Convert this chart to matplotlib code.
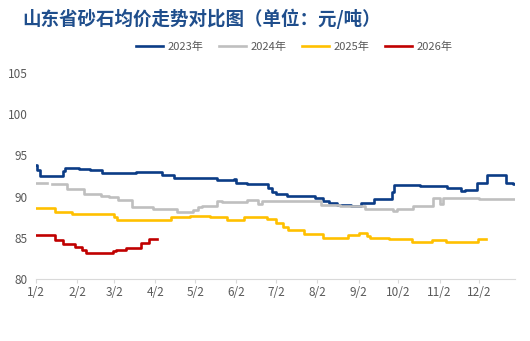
import matplotlib.pyplot as plt
import numpy as np
import pandas as pd

plt.rcParams['font.family'] = ['Noto Sans CJK SC', 'DejaVu Sans']

# 阶梯数据: (日期, 均价)，每个值保持到下一个日期
dates_2023 = ["01-02", "01-03", "01-05", "01-22", "01-24", "02-03", "02-12", "02-21", "03-18", "04-07",
              "04-16", "05-05", "05-18", "05-31", "06-02", "06-10", "06-26", "06-29", "07-02", "07-10",
              "07-31", "08-06", "08-11", "08-17", "08-27", "09-04", "09-14", "09-27", "09-29", "10-18",
              "11-08", "11-18", "11-21", "11-30", "12-08", "12-22", "12-27", "12-29"]
vals_2023 = [93.8, 93.2, 92.5, 93.1, 93.5, 93.3, 93.2, 92.8, 93.0, 92.6,
             92.3, 92.2, 92.0, 92.1, 91.7, 91.5, 91.0, 90.6, 90.3, 90.1,
             89.8, 89.5, 89.2, 89.0, 88.8, 89.2, 89.7, 90.5, 91.4, 91.3,
             91.0, 90.7, 90.8, 91.7, 92.6, 91.7, 91.5, 91.5]

dates_2024 = ["01-02", "01-10", "01-14", "01-25", "02-07", "02-20", "02-26", "03-05", "03-15", "03-31",
              "04-18", "04-30", "05-04", "05-07", "05-18", "05-22", "06-10", "06-18", "06-21", "07-07",
              "07-19", "08-05", "08-19", "09-07", "09-28", "10-01", "10-13", "10-28", "11-02", "11-05",
              "12-02", "12-29"]
vals_2024 = [91.7, np.nan, 91.5, 90.9, 90.3, 90.1, 89.9, 89.6, 88.7, 88.5,
             88.1, 88.4, 88.7, 88.9, 89.5, 89.3, 89.6, 89.1, 89.5, 89.4,
             89.5, 89.0, 88.8, 88.5, 88.2, 88.5, 88.8, 89.8, 89.1, 89.8,
             89.7, 89.7]

dates_2025 = ["01-02", "01-16", "01-29", "03-02", "03-04", "03-23", "04-14", "04-28", "05-13", "05-26",
              "06-08", "06-25", "07-02", "07-07", "07-11", "07-23", "08-06", "08-25", "09-02", "09-08",
              "09-11", "09-25", "10-12", "10-27", "11-07", "12-01", "12-07"]
vals_2025 = [88.6, 88.1, 87.9, 87.5, 87.1, 87.2, 87.5, 87.6, 87.5, 87.2,
             87.5, 87.3, 86.8, 86.3, 85.9, 85.5, 85.0, 85.3, 85.6, 85.2,
             85.0, 84.8, 84.5, 84.7, 84.5, 84.9, 84.9]

dates_2026 = ["01-02", "01-16", "01-22", "01-31", "02-06", "02-09", "03-01", "03-03", "03-11", "03-22",
              "03-28", "04-03"]
vals_2026 = [85.3, 84.7, 84.2, 83.9, 83.5, 83.2, 83.4, 83.5, 83.8, 84.4,
             84.8, 84.8]

tick_dates = ["01-02", "02-02", "03-02", "04-02", "05-02", "06-02", "07-02", "08-02", "09-02",
              "10-02", "11-02", "12-02"]
tick_labels = ["1/2", "2/2", "3/2", "4/2", "5/2", "6/2", "7/2", "8/2", "9/2", "10/2", "11/2", "12/2"]


def to_doy(md_list):
    # 用非闰年把月-日换成年内第几天
    return pd.to_datetime(["2023-" + s for s in md_list]).dayofyear.values


series = [
    ("2023年", dates_2023, vals_2023, "#0B3C86"),
    ("2024年", dates_2024, vals_2024, "#BFBFBF"),
    ("2025年", dates_2025, vals_2025, "#FFC000"),
    ("2026年", dates_2026, vals_2026, "#C00000"),
]

fig = plt.figure(figsize=(5.3, 3.41), dpi=100)
ax = fig.add_axes([0.068, 0.182, 0.904, 0.604])

for label, d, v, c in series:
    ax.plot(to_doy(d), v, drawstyle="steps-post", color=c, lw=1.9, label=label)

ax.set_xlim(2, 363)
ax.set_ylim(80, 105)
ax.set_yticks([80, 85, 90, 95, 100, 105])
ax.set_xticks(to_doy(tick_dates))
ax.set_xticklabels(tick_labels)

for s in ["top", "right", "left"]:
    ax.spines[s].set_visible(False)
ax.spines["bottom"].set_color("#D9D9D9")
ax.tick_params(axis="y", length=0, labelsize=8.5, labelcolor="#595959", pad=6)
ax.tick_params(axis="x", length=3, color="#D9D9D9", labelsize=8.5, labelcolor="#595959", pad=2)

fig.text(0.042, 0.945, "山东省砂石均价走势对比图（单位：元/吨）", fontsize=13.3, fontweight="bold",
         color="#1F4E8C", va="center", ha="left")

leg = fig.legend(loc="center", bbox_to_anchor=(0.555, 0.862), ncol=4, frameon=False,
                 fontsize=8, handlelength=2.45, columnspacing=1.4, handletextpad=0.4)
for t in leg.get_texts():
    t.set_color("#595959")

fig.savefig("out.png", dpi=100)
